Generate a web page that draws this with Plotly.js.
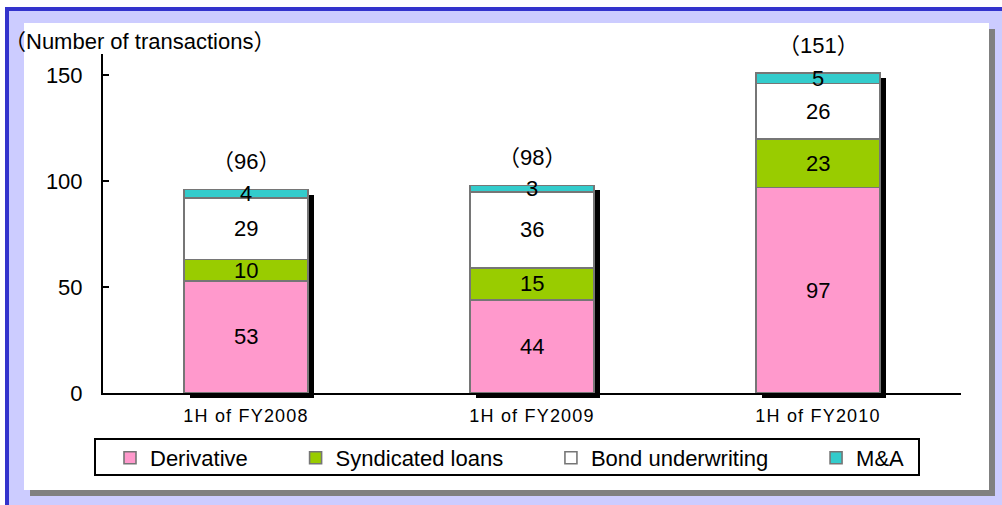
<!DOCTYPE html>
<html>
<head>
<meta charset="utf-8">
<script src="https://cdn.plot.ly/plotly-3.0.1.min.js"></script>
<style>
  html, body { margin: 0; padding: 0; width: 1002px; height: 505px; overflow: hidden; background: #ffffff; }
  #outer { position: absolute; left: 5px; top: 7px; width: 993px; height: 494px; background: #ccccff;
           border-left: 4px solid #3333cc; border-top: 4px solid #3333cc; }
  #shadow { position: absolute; left: 30px; top: 29px; width: 965px; height: 467px; background: #808080; }
  #inner { position: absolute; left: 24px; top: 23px; width: 965px; height: 467px; background: #ffffff; }
  #chart { position: absolute; left: 0; top: 0; width: 1002px; height: 505px; }
  .x2tick text { letter-spacing: 1.2px; }
</style>
</head>
<body>
<div id="outer"></div>
<div id="shadow"></div>
<div id="inner"></div>
<div id="chart"></div>
<script>
// ---- data ----
const categories = ['1H of FY2008', '1H of FY2009', '1H of FY2010'];
const derivative = [53, 44, 97];
const syndicatedLoans = [10, 15, 23];
const bondUnderwriting = [29, 36, 26];
const mna = [4, 3, 5];
const seriesNames = ['Derivative', 'Syndicated loans', 'Bond underwriting', 'M&A'];
const yTickValues = [0, 50, 100, 150];
const yAxisLabel = '（Number of transactions）';

// ---- styling ----
const FONT = 'Arial, "Liberation Sans", "Noto Sans CJK JP", sans-serif';
const seriesColors = ['#ff99cc', '#99cc00', '#ffffff', '#33cccc'];
const legendPad = ['\u00a0'.repeat(7), '\u00a0'.repeat(7), '\u00a0'.repeat(7), ''];
const seriesValues = [derivative, syndicatedLoans, bondUnderwriting, mna];
const totals = categories.map((c, i) => seriesValues.reduce((s, arr) => s + arr[i], 0));

// pixel geometry of plot region
const L = 103, R = 35, T = 54, B = 107;
const W = 1002 - L - R, H = 505 - T - B;   // 864 x 344
const DX = 6, DY = 5;                       // bar shadow offset
const px = v => (v - L) / W;
const py = v => (505 - B - v) / H;

const traces = [];
// shadow (drawn first, on its own shifted axes)
traces.push({
  type: 'bar', x: categories, y: totals, xaxis: 'x', yaxis: 'y',
  marker: { color: '#000000', line: { width: 0 } },
  showlegend: false, hoverinfo: 'skip'
});
seriesValues.forEach((vals, k) => {
  traces.push({
    type: 'bar', name: seriesNames[k] + legendPad[k], x: categories, y: vals,
    xaxis: 'x2', yaxis: 'y2',
    marker: { color: seriesColors[k], line: { color: '#767676', width: 1.6 } },
    hoverinfo: 'x+y'
  });
});

const annotations = [];
categories.forEach((c, i) => {
  let base = 0;
  seriesValues.forEach(vals => {
    annotations.push({
      xref: 'x2', yref: 'y2', x: c, y: base + vals[i] / 2, text: String(vals[i]),
      showarrow: false, xanchor: 'center', yanchor: 'middle',
      font: { family: FONT, size: 22, color: '#000000' }
    });
    base += vals[i];
  });
  annotations.push({
    xref: 'x2', yref: 'y2', x: c, y: totals[i], text: '（' + totals[i] + '）',
    showarrow: false, xanchor: 'center', yanchor: 'middle', yshift: 28,
    font: { family: FONT, size: 22, color: '#000000' }
  });
});
annotations.push({
  xref: 'paper', yref: 'paper', x: px(2), y: py(42), text: yAxisLabel,
  showarrow: false, xanchor: 'left', yanchor: 'middle',
  font: { family: FONT, size: 22, color: '#000000' }
});

const layout = {
  width: 1002, height: 505,
  margin: { l: L, r: R, t: T, b: B, pad: 0 },
  paper_bgcolor: 'rgba(0,0,0,0)', plot_bgcolor: 'rgba(0,0,0,0)',
  barmode: 'stack', bargap: 0.566,
  font: { family: FONT, color: '#000000' },
  showlegend: true,
  xaxis: { domain: [DX / W, 1], anchor: 'y', type: 'category', visible: false, fixedrange: true },
  yaxis: { domain: [0, (H - DY) / H], anchor: 'x', range: [0, 160], visible: false, fixedrange: true },
  xaxis2: {
    domain: [0, (W - DX) / W], anchor: 'y2', type: 'category',
    showline: true, linecolor: '#000000', linewidth: 2, ticks: '',
    showgrid: false, zeroline: false, ticklabelstandoff: 5,
    tickfont: { family: FONT, size: 18, color: '#000000' }, fixedrange: true
  },
  yaxis2: {
    domain: [DY / H, 1], anchor: 'x2', range: [0, 160],
    tickvals: yTickValues, ticktext: yTickValues.map(String),
    showline: true, linecolor: '#000000', linewidth: 2,
    ticks: 'inside', ticklen: 6, tickwidth: 2, tickcolor: '#000000',
    showgrid: false, zeroline: false, ticklabelstandoff: 14,
    tickfont: { family: FONT, size: 22, color: '#000000' }, fixedrange: true
  },
  legend: {
    orientation: 'h', traceorder: 'normal',
    xref: 'container', yref: 'container', x: 110 / 1002, xanchor: 'left',
    y: 1 - 437 / 505, yanchor: 'top',
    bgcolor: 'rgba(0,0,0,0)', borderwidth: 0,
    font: { family: FONT, size: 22, color: '#000000' }
  },
  shapes: [{
    type: 'rect', xref: 'paper', yref: 'paper', layer: 'below',
    x0: px(95), x1: px(919), y0: py(475), y1: py(439),
    line: { color: '#000000', width: 2 }, fillcolor: '#ffffff'
  }],
  annotations: annotations
};

Plotly.newPlot('chart', traces, layout, { displayModeBar: false, staticPlot: true });
</script>
</body>
</html>
